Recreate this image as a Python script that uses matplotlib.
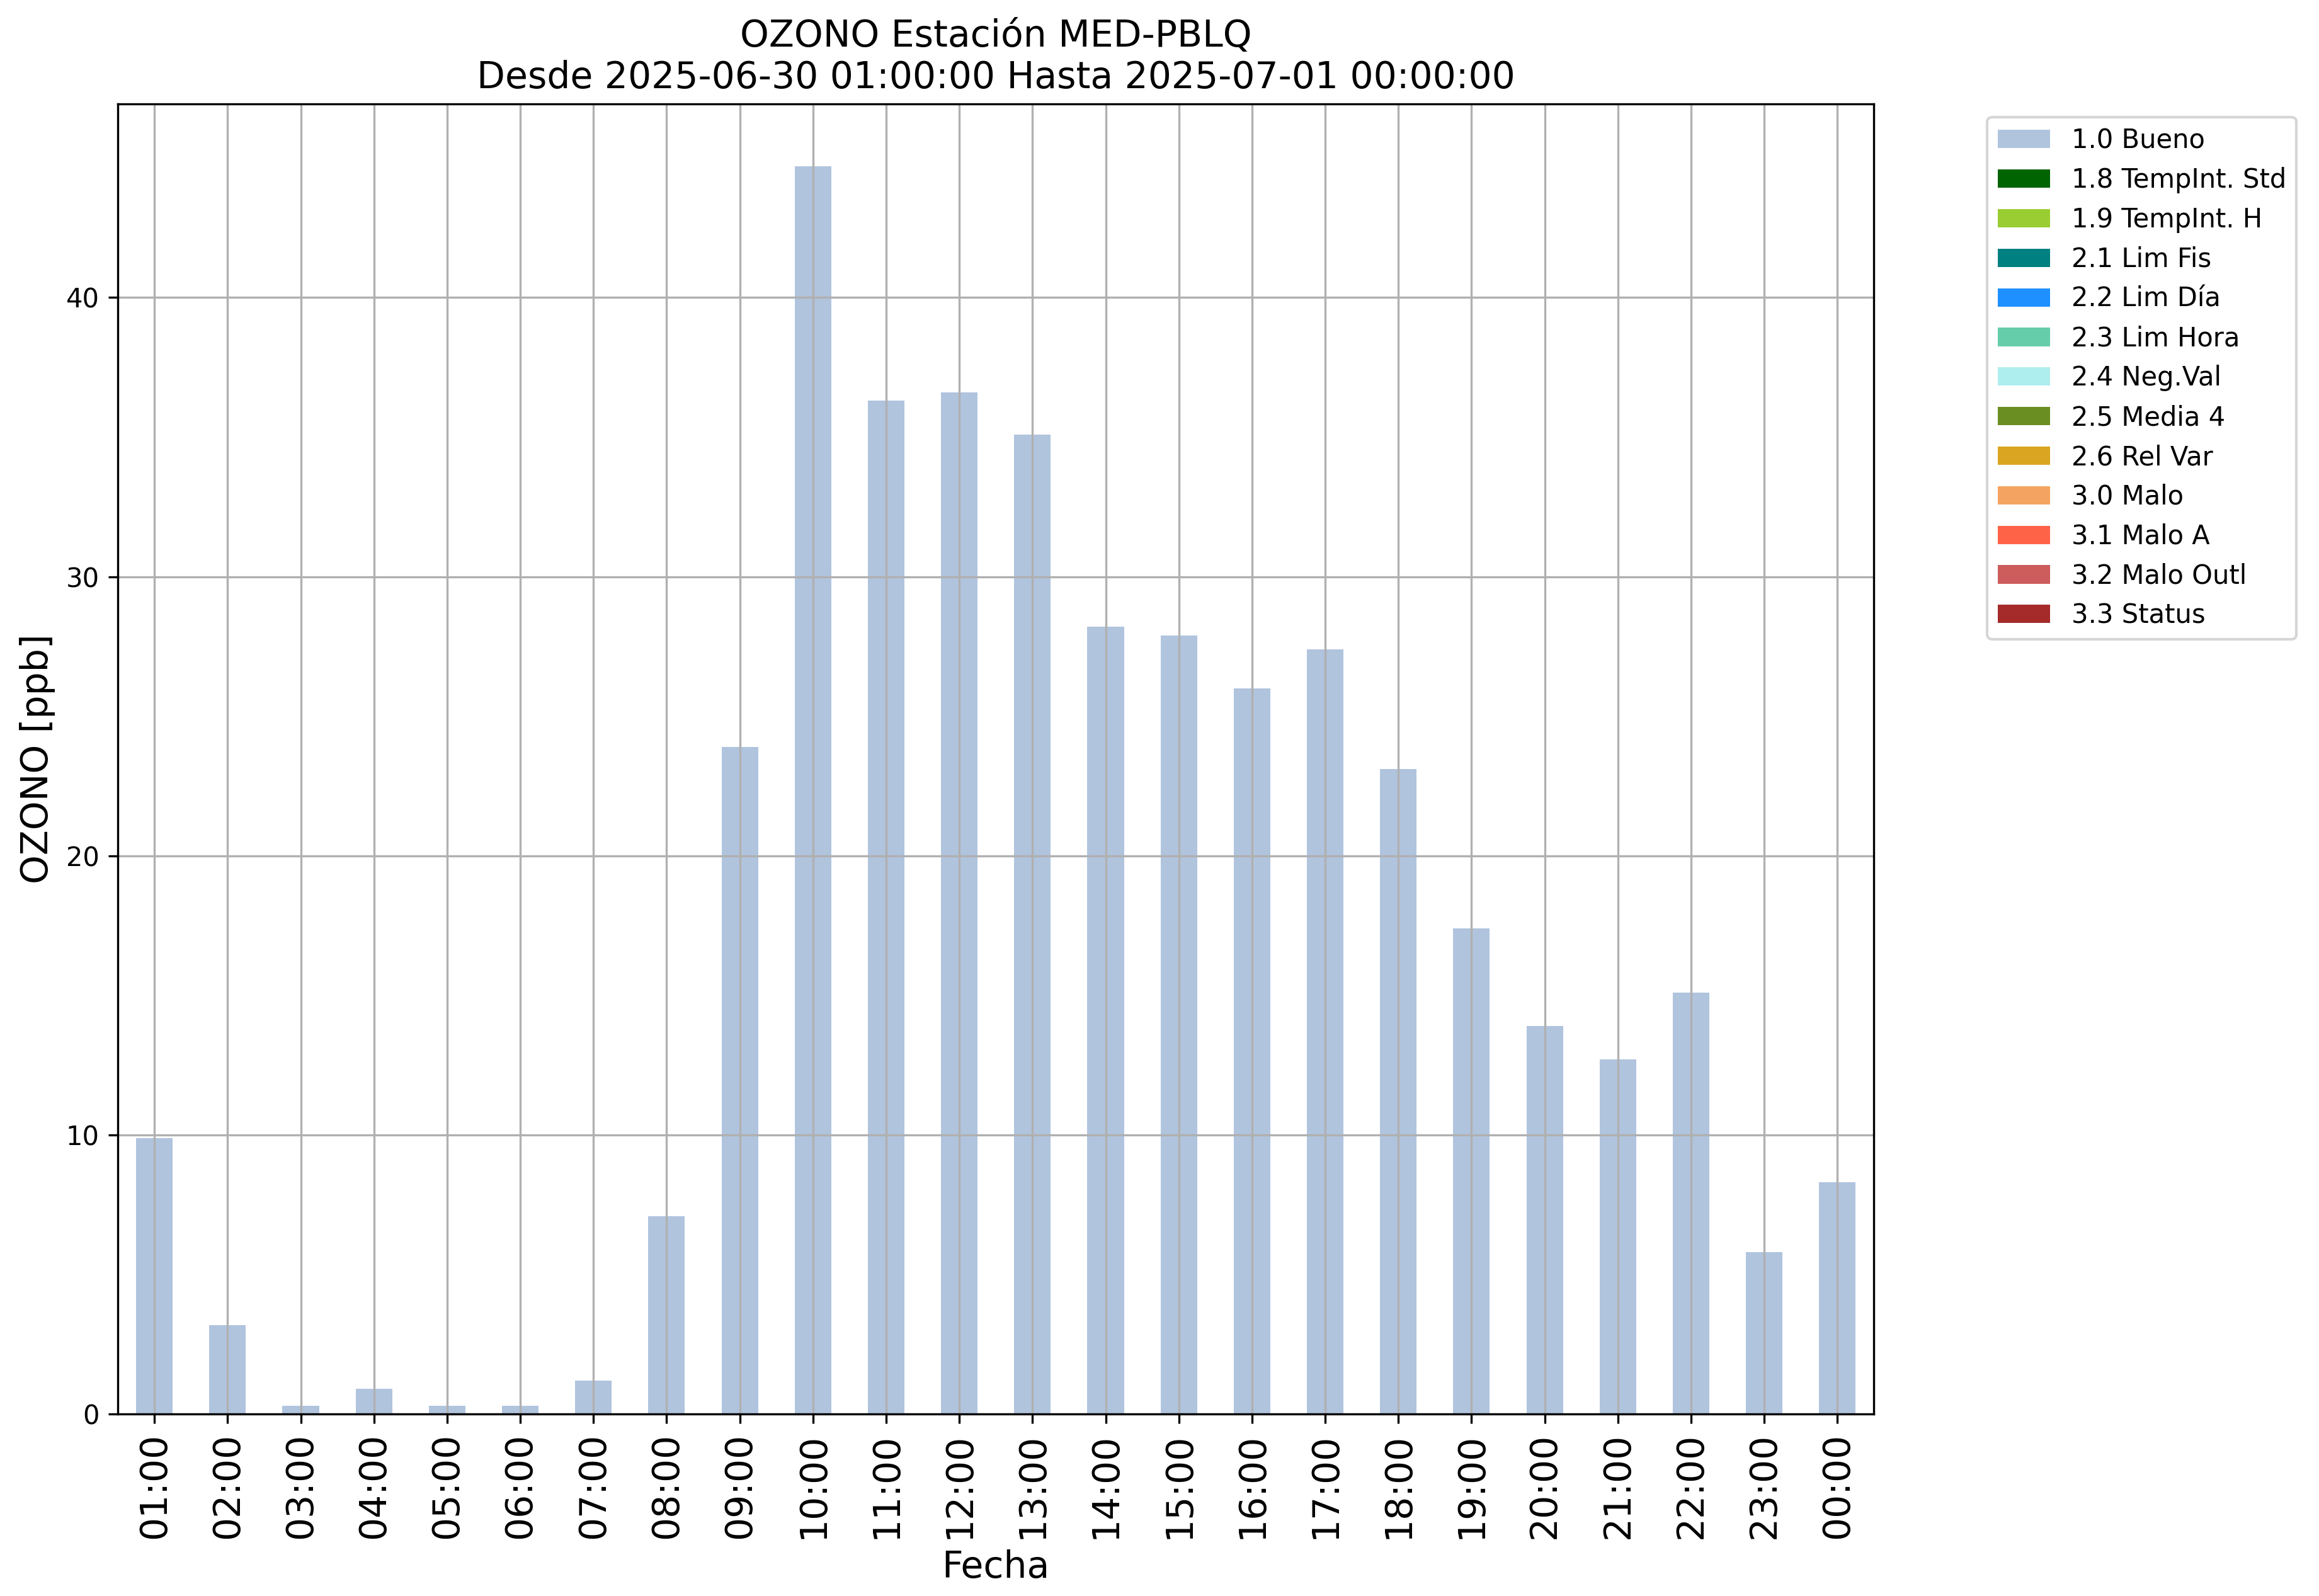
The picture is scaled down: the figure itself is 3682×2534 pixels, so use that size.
import matplotlib
matplotlib.use("Agg")
import matplotlib.pyplot as plt
import numpy as np

# Horas (etiquetas del eje x)
horas = ["01:00", "02:00", "03:00", "04:00", "05:00", "06:00", "07:00", "08:00",
         "09:00", "10:00", "11:00", "12:00", "13:00", "14:00", "15:00", "16:00",
         "17:00", "18:00", "19:00", "20:00", "21:00", "22:00", "23:00", "00:00"]

# Valores de ozono [ppb] con bandera 1.0 Bueno
bueno = [9.9, 3.2, 0.3, 0.9, 0.3, 0.3, 1.2, 7.1, 23.9, 44.7, 36.3, 36.6,
         35.1, 28.2, 27.9, 26.0, 27.4, 23.1, 17.4, 13.9, 12.7, 15.1, 5.8, 8.3]

# Banderas de calidad y sus colores
banderas = ["1.0 Bueno", "1.8 TempInt. Std", "1.9 TempInt. H", "2.1 Lim Fis",
            "2.2 Lim Día", "2.3 Lim Hora", "2.4 Neg.Val", "2.5 Media 4",
            "2.6 Rel Var", "3.0 Malo", "3.1 Malo A", "3.2 Malo Outl", "3.3 Status"]
colores = ["lightsteelblue", "darkgreen", "yellowgreen", "teal", "dodgerblue",
           "mediumaquamarine", "paleturquoise", "olivedrab", "goldenrod",
           "sandybrown", "tomato", "indianred", "brown"]

# Solo la bandera "Bueno" tiene datos; el resto vale cero
ceros = [0.0] * len(horas)
series = [bueno] + [ceros] * (len(banderas) - 1)

fig = plt.figure(figsize=(3682 / 300, 2534 / 300), dpi=300)
ax = fig.add_axes([0.0508, 0.1139, 0.7573, 0.8210])

x = np.arange(len(horas))
bottom = np.zeros(len(horas))
for nombre, color, valores in zip(banderas, colores, series):
    v = np.array(valores)
    ax.bar(x, v, width=0.5, bottom=bottom, color=color, label=nombre)
    bottom += v

ax.set_xlim(-0.5, len(horas) - 0.5)
# margen superior normal (5 %), las barras vacías apiladas lo anulan
ax.set_ylim(0, bottom.max() * 1.05)
ax.set_xticks(x)
ax.set_xticklabels(horas, rotation=90, fontsize=14)
ax.tick_params(axis="y", labelsize=10)
ax.set_yticks([0, 10, 20, 30, 40])
ax.grid(True)

ax.set_xlabel("Fecha", fontsize=14)
ax.set_ylabel("OZONO [ppb]", fontsize=14)
ax.set_title("OZONO Estación MED-PBLQ\nDesde 2025-06-30 01:00:00 Hasta 2025-07-01 00:00:00",
             fontsize=14)

ax.legend(bbox_to_anchor=(1.057, 1), loc="upper left", fontsize=10)

fig.savefig("out.png", dpi=300)
